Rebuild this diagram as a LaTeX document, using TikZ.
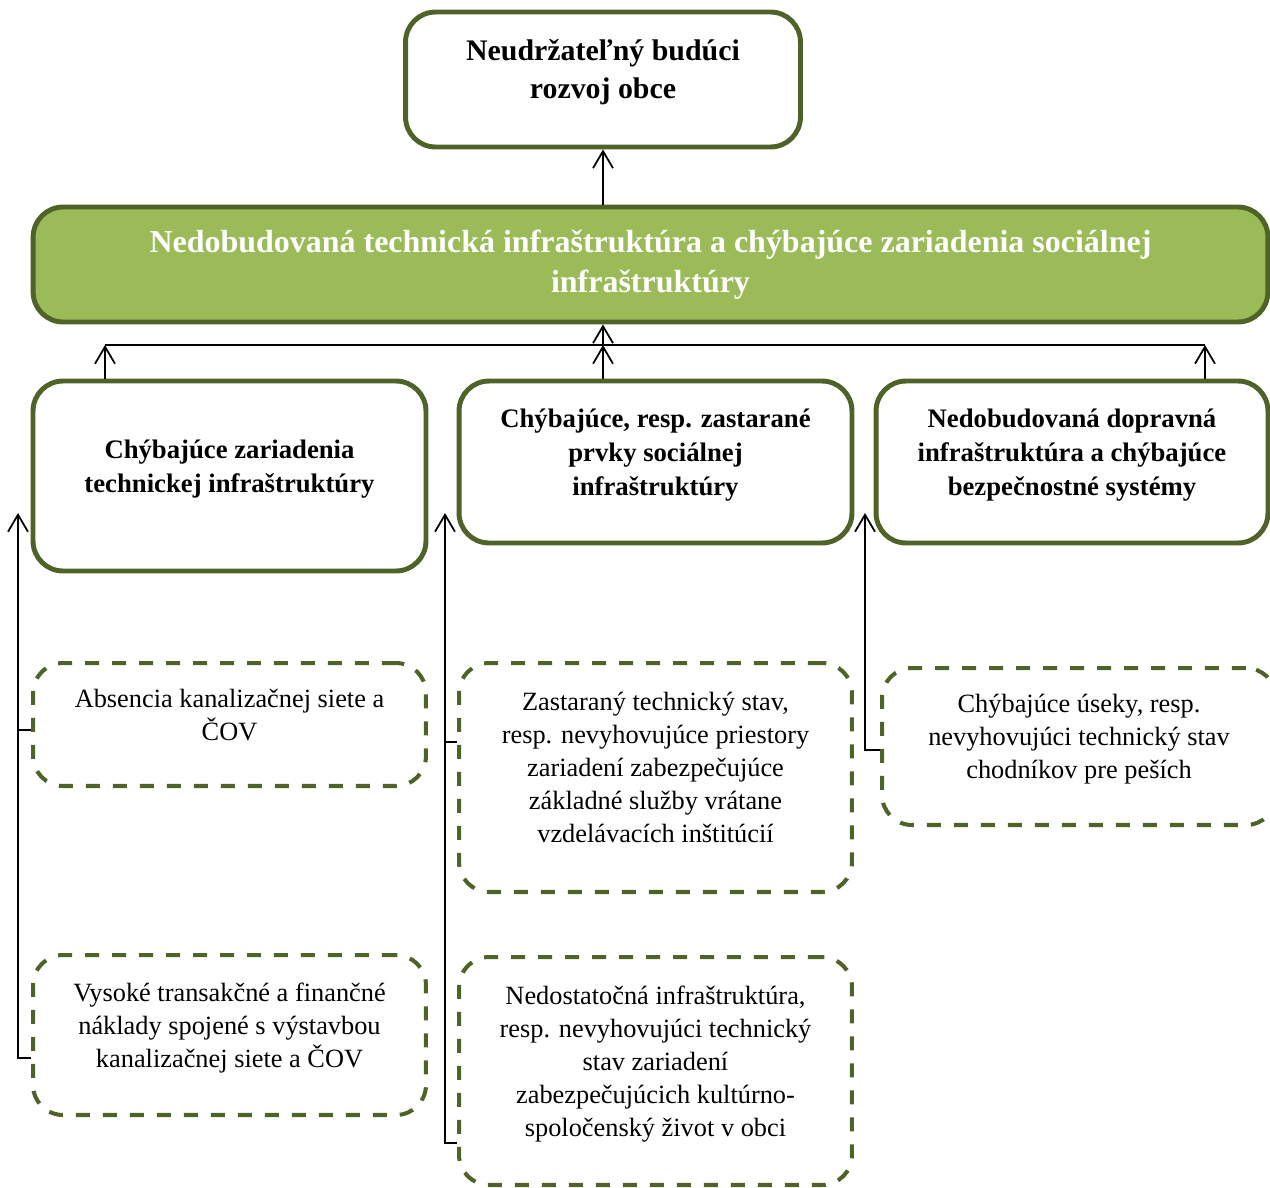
\documentclass[tikz,border=0pt]{standalone}
\usepackage{fontspec}
\setmainfont{Liberation Serif}
\usetikzlibrary{arrows.meta, positioning}
\definecolor{olivedark}{RGB}{79,98,40}
\definecolor{leaf}{RGB}{155,187,89}
\tikzset{>={Straight Barb[length=0.34cm,width=0.4cm]},
cause/.style={draw=olivedark, line width=2.8pt, rounded corners=0.6cm, fill=white, align=center, text depth=0.4cm, font=\bfseries\fontsize{15.2}{19.3}\selectfont},
goal/.style={cause, text depth=0.44cm, font=\bfseries\fontsize{17}{21.6}\selectfont},
effect/.style={cause, fill=leaf, text=white, text depth=, font=\bfseries\fontsize{18.2}{22.6}\selectfont},
factor/.style={draw=olivedark, line width=2.3pt, dash pattern=on 0.28cm off 0.26cm, rounded corners=0.6cm, align=center, text depth=0.4cm, font=\fontsize{15}{18.8}\selectfont},
}

\begin{document}
\begin{tikzpicture}[x=0.02cm, y=-0.02cm, line width=1pt]
\useasboundingbox (0,0) rectangle (1270,1187);
    \node[goal, minimum width=7.9cm, minimum height=2.7cm] (obec) at (603,79.5) {Neudržateľný budúci\\ rozvoj obce};
    \node[effect, minimum width=24.7cm, minimum height=2.3cm] (infra) at (650.5,264.5) {Nedobudovaná technická infraštruktúra a chýbajúce zariadenia sociálnej\\ infraštruktúry};
    \node[cause, minimum width=7.86cm, minimum height=3.8cm] (tech) at (229.5,476) {Chýbajúce zariadenia\\ technickej infraštruktúry};
    \node[cause, minimum width=7.86cm, minimum height=3.24cm] (soc) at (655.5,462) {Chýbajúce, resp. zastarané\\ prvky sociálnej\\ infraštruktúry};
    \node[cause, minimum width=7.84cm, minimum height=3.24cm] (dopr) at (1072,462) {Nedobudovaná dopravná\\ infraštruktúra a chýbajúce\\ bezpečnostné systémy};
    \node[factor, minimum width=7.86cm, minimum height=2.46cm] (kan) at (229.5,724.5) {Absencia kanalizačnej siete a\\ ČOV};
    \node[factor, minimum width=7.86cm, minimum height=3.2cm] (nakl) at (229.5,1035) {Vysoké transakčné a finančné\\ náklady spojené s výstavbou\\ kanalizačnej siete a ČOV};
    \node[factor, minimum width=7.86cm, minimum height=4.58cm] (zast) at (655.5,777.5) {Zastaraný technický stav,\\ resp. nevyhovujúce priestory\\ zariadení zabezpečujúce\\ základné služby vrátane\\ vzdelávacích inštitúcií};
    \node[factor, minimum width=7.86cm, minimum height=4.56cm] (kult) at (655.5,1071) {Nedostatočná infraštruktúra,\\ resp. nevyhovujúci technický\\ stav zariadení\\ zabezpečujúcich kultúrno-\\ spoločenský život v obci};
    \node[factor, minimum width=7.88cm, minimum height=3.14cm] (chod) at (1079,746.5) {Chýbajúce úseky, resp.\\ nevyhovujúci technický stav\\ chodníkov pre peších};
    \coordinate (bus) at (603,345);
    \coordinate (busL) at (105,345);
    \coordinate (busR) at (1205,345);
    \coordinate (inL) at (18,513);
    \coordinate (inM) at (445,513);
    \coordinate (inR) at (865,513);
    \draw[->] (infra.north -| obec.south) -- (obec.south);
    \draw (busL) -- (busR);
    \draw[->] (tech.north -| busL) -- (busL);
    \draw[->] (dopr.north -| busR) -- (busR);
    \draw[->] (soc.north -| bus) -- (bus);
    \draw[->] (bus) -- (infra.south -| bus);
    \draw[->] (nakl.west |- 0,1058) -| (inL);
    \draw (kan.west |- 0,730) -- (inL |- 0,730);
    \draw[->] (kult.west |- 0,1143) -| (inM);
    \draw (zast.west |- 0,742) -- (inM |- 0,742);
    \draw[->] (chod.west |- 0,750) -| (inR);
\end{tikzpicture}
\end{document}
